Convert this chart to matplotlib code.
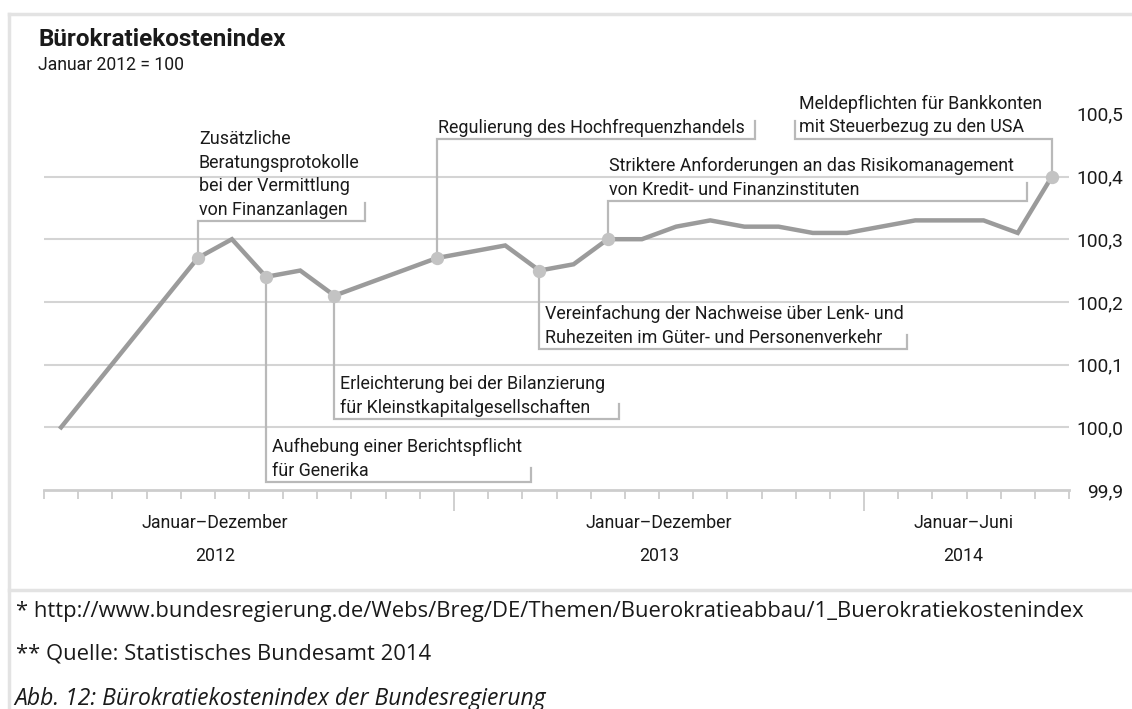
import matplotlib
matplotlib.use("Agg")
import matplotlib.pyplot as plt
from matplotlib.lines import Line2D
import numpy as np

# ---------------- data ----------------
month_idx = [0, 4, 5, 6, 7, 8, 11, 13, 14, 15, 16, 17, 18, 19, 20, 21,
             22, 23, 24, 25, 26, 27, 28, 29]
index_values = [100.00, 100.27, 100.30, 100.24, 100.25, 100.21, 100.27, 100.29,
                100.25, 100.26, 100.30, 100.30, 100.32, 100.33, 100.32, 100.32,
                100.31, 100.31, 100.32, 100.33, 100.33, 100.33, 100.31, 100.40]
n_months = 30
year_labels = ["2012", "2013", "2014"]
period_labels = ["Januar–Dezember", "Januar–Dezember", "Januar–Juni"]
year_months = [12, 12, 6]
y_ticks = [99.9, 100.0, 100.1, 100.2, 100.3, 100.4, 100.5]
y_tick_labels = ["99,9", "100,0", "100,1", "100,2", "100,3", "100,4", "100,5"]

event_months = [4, 6, 8, 11, 14, 16, 29]
event_texts = [
    "Zusätzliche\nBeratungsprotokolle\nbei der Vermittlung\nvon Finanzanlagen",
    "Aufhebung einer Berichtspflicht\nfür Generika",
    "Erleichterung bei der Bilanzierung\nfür Kleinstkapitalgesellschaften",
    "Regulierung des Hochfrequenzhandels",
    "Vereinfachung der Nachweise über Lenk- und\nRuhezeiten im Güter- und Personenverkehr",
    "Striktere Anforderungen an das Risikomanagement\nvon Kredit- und Finanzinstituten",
    "Meldepflichten für Bankkonten\nmit Steuerbezug zu den USA",
]

title = "Bürokratiekostenindex"
subtitle = "Januar 2012 = 100"
footnote1 = "* http://www.bundesregierung.de/Webs/Breg/DE/Themen/Buerokratieabbau/1_Buerokratiekostenindex"
footnote2 = "** Quelle: Statistisches Bundesamt 2014"
caption = "Abb. 12: Bürokratiekostenindex der Bundesregierung"

# ---------------- layout (pixels) ----------------
# (direction, side, stem length, connector width, end tick height)
event_layout = [
    ("up", "right", 37, 167, 18),
    ("down", "right", 205, 265, 14),
    ("down", "right", 123, 285, 15),
    ("up", "right", 119, 318, 18),
    ("down", "right", 78, 368, 14),
    ("up", "right", 38, 419, 18),
    ("up", "left", 38, 257, 18),
]

W, H, DPI = 1132, 709, 100
TXT = "#1a1a1a"
CHART_FONT = ["Roboto", "DejaVu Sans"]
NOTE_FONT = ["Open Sans", "DejaVu Sans"]
ANN_SIZE = 12.9

fig = plt.figure(figsize=(W / DPI, H / DPI), dpi=DPI)
fig.patch.set_facecolor("white")

ax_left, ax_right = 44, 1069
ax_top, ax_bottom = 113.8, 490
ax = fig.add_axes([ax_left / W, 1 - ax_bottom / H,
                   (ax_right - ax_left) / W, (ax_bottom - ax_top) / H])
ax.set_xlim(-0.5, n_months - 0.5)
ax.set_ylim(y_ticks[0], y_ticks[-1])
ax.patch.set_alpha(0)

# gridlines
for yv in y_ticks[1:-1]:
    ax.axhline(yv, color="#d4d4d4", lw=1.5, zorder=1)

# spines / axis
for s in ["top", "left", "right"]:
    ax.spines[s].set_visible(False)
ax.spines["bottom"].set_color("#cdcdcd")
ax.spines["bottom"].set_linewidth(2)

bounds = np.cumsum([0] + year_months) - 0.5
minor = np.arange(n_months + 1) - 0.5
ax.set_xticks(bounds[1:-1])
ax.set_xticks(minor, minor=True)
ax.tick_params(axis="x", which="major", length=15, width=1.3, color="#cdcdcd",
               labelbottom=False)
ax.tick_params(axis="x", which="minor", length=6.2, width=1.3, color="#cdcdcd")

ax.set_yticks(y_ticks)
ax.set_yticklabels(y_tick_labels)
ax.tick_params(axis="y", length=0, pad=39, labelright=True, labelleft=False,
               labelsize=13.8, labelcolor=TXT)
for lbl in ax.get_yticklabels():
    lbl.set_horizontalalignment("right")
    lbl.set_fontfamily(CHART_FONT)

# period / year labels
label_pos = [4.5, 17.5, 26.4]
for pos, per, yr in zip(label_pos, period_labels, year_labels):
    ax.annotate(per, xy=(pos, 0), xycoords=("data", "axes fraction"),
                xytext=(0, -24), textcoords="offset points",
                ha="center", va="center", fontsize=12.8, color=TXT,
                family=CHART_FONT)
    ax.annotate(yr, xy=(pos, 0), xycoords=("data", "axes fraction"),
                xytext=(0, -47.5), textcoords="offset points",
                ha="center", va="center", fontsize=12.8, color=TXT,
                family=CHART_FONT)

# main line
ax.plot(month_idx, index_values, color="#9b9b9b", lw=3.2, solid_joinstyle="miter",
        zorder=3, clip_on=False)

# events
val_lookup = dict(zip(month_idx, index_values))
ev_x = event_months
ev_y = [val_lookup[m] for m in event_months]
ax.scatter(ev_x, ev_y, s=92, color="#c3c3c3", zorder=4, clip_on=False,
           linewidths=0)

fig.canvas.draw()
to_disp = ax.transData.transform
to_data = ax.transData.inverted().transform
LC = "#b9b9b9"

for (m, v), txt, (direc, side, stem, width, tick) in zip(zip(ev_x, ev_y),
                                                         event_texts, event_layout):
    px, py = to_disp((m, v))
    sgn = 1 if direc == "up" else -1
    ly = py + sgn * stem
    ex = px + width if side == "right" else px - width
    pts = [(px, py), (px, ly), (ex, ly), (ex, ly + tick)]
    dpts = to_data(np.array(pts))
    ax.add_line(Line2D(dpts[:, 0], dpts[:, 1], color=LC, lw=1.6, zorder=2,
                       clip_on=False, solid_joinstyle="miter"))
    if side == "right":
        tx = px + (1 if direc == "up" else 6)
    else:
        tx = ex + 4
    tdx, tdy = to_data((tx, ly + 2))
    ax.text(tdx, tdy, txt, ha="left", va="bottom", fontsize=ANN_SIZE, color=TXT,
            family=CHART_FONT, linespacing=1.41, zorder=5, clip_on=False)

# title
fig.text(38 / W, 1 - 39 / H, title, fontsize=17.5, fontweight="bold", color=TXT,
         family=CHART_FONT, ha="left", va="center")
fig.text(38 / W, 1 - 65 / H, subtitle, fontsize=12.7, color=TXT,
         family=CHART_FONT, ha="left", va="center")

# frame
FC = "#e3e3e3"
fig.add_artist(Line2D([9 / W, 9 / W], [0, 1 - 14 / H], transform=fig.transFigure,
                      color=FC, lw=2.5))
fig.add_artist(Line2D([9 / W, 1], [1 - 14 / H, 1 - 14 / H], transform=fig.transFigure,
                      color=FC, lw=2.5))
fig.add_artist(Line2D([9 / W, 1], [1 - 590 / H, 1 - 590 / H], transform=fig.transFigure,
                      color=FC, lw=2.5))

# footnotes
fig.text(16 / W, 1 - 612 / H, footnote1, fontsize=15.8, color=TXT,
         family=NOTE_FONT, ha="left", va="center")
fig.text(16 / W, 1 - 654 / H, footnote2, fontsize=15.8, color=TXT,
         family=NOTE_FONT, ha="left", va="center")
fig.text(14 / W, 1 - 705 / H, caption, fontsize=16.5, color=TXT, style="italic",
         family=NOTE_FONT, ha="left", va="baseline")

fig.savefig("out.png", dpi=DPI, facecolor="white")
